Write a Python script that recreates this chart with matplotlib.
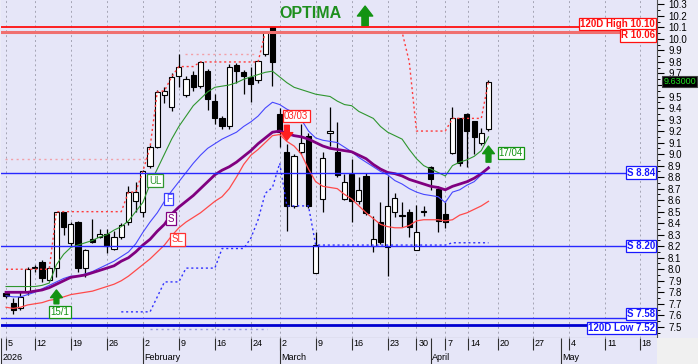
import numpy as np
import matplotlib.pyplot as plt
from matplotlib.patches import Rectangle

plt.rcParams['font.family'] = ['Liberation Sans', 'DejaVu Sans']

# daily candles, Jan 5 .. Apr 17 2026 (trading-day index 0..67)
opens = [7.79, 7.71, 7.66, 7.80, 8.02, 8.06, 7.91, 8.01, 8.50, 8.23,
         8.41, 8.01, 8.26, 8.28, 8.31, 8.18, 8.28, 8.41, 8.59, 8.50,
         8.90, 9.06, 9.51, 9.41, 9.68, 9.51, 9.69, 9.59, 9.72, 9.46,
         9.31, 9.24, 9.77, 9.71, 9.67, 9.64, 9.87, 10.10, 9.35, 9.02,
         8.55, 9.02, 9.16, 7.97, 8.61, 9.18, 9.02, 8.61, 8.83, 8.59,
         8.81, 8.20, 8.41, 8.19, 8.50, 8.47, 8.50, 8.17, 8.51, 8.89,
         8.70, 8.48, 9.01, 9.31, 9.35, 9.29, 9.10, 9.22]
highs = [7.80, 7.75, 7.80, 8.02, 8.04, 8.08, 8.03, 8.50, 8.50, 8.41,
         8.42, 8.18, 8.44, 8.35, 8.35, 8.33, 8.40, 8.72, 8.76, 8.86,
         9.08, 9.56, 9.58, 9.70, 9.87, 9.68, 9.72, 9.81, 9.74, 9.52,
         9.33, 9.78, 9.79, 9.73, 9.76, 9.82, 10.06, 10.10, 9.40, 9.09,
         9.00, 9.26, 9.18, 8.32, 9.02, 9.41, 9.28, 8.83, 8.96, 8.80,
         8.84, 8.46, 8.58, 8.81, 8.66, 8.58, 8.52, 8.56, 8.55, 8.90,
         8.72, 8.58, 9.41, 9.31, 9.36, 9.29, 9.23, 9.64]
lows = [7.75, 7.61, 7.65, 7.78, 7.98, 7.89, 7.90, 7.93, 8.30, 8.20,
        7.98, 7.93, 8.23, 8.27, 8.14, 8.17, 8.26, 8.38, 8.50, 8.45,
        8.88, 9.05, 9.44, 9.37, 9.58, 9.50, 9.55, 9.57, 9.38, 9.26,
        9.22, 9.22, 9.62, 9.52, 9.45, 9.62, 9.85, 9.59, 9.06, 8.33,
        8.53, 9.00, 8.53, 7.97, 8.50, 9.07, 8.80, 8.60, 8.41, 8.57,
        8.47, 8.15, 8.22, 7.94, 8.45, 8.37, 8.28, 8.17, 8.46, 8.69,
        8.32, 8.36, 9.00, 8.90, 8.89, 9.00, 9.08, 9.20]
closes = [7.77, 7.65, 7.76, 8.00, 8.01, 7.92, 8.01, 8.50, 8.37, 8.39,
          8.01, 8.17, 8.24, 8.31, 8.20, 8.28, 8.38, 8.67, 8.67, 8.85,
          9.06, 9.54, 9.55, 9.67, 9.76, 9.65, 9.58, 9.80, 9.48, 9.31,
          9.24, 9.76, 9.72, 9.68, 9.61, 9.81, 10.06, 9.80, 9.19, 8.55,
          8.98, 9.10, 8.55, 8.21, 8.97, 9.20, 8.82, 8.76, 8.59, 8.69,
          8.49, 8.26, 8.24, 8.55, 8.62, 8.46, 8.37, 8.32, 8.50, 8.78,
          8.42, 8.41, 9.31, 8.92, 9.20, 9.15, 9.18, 9.63]

# indicator lines
ul_line = [7.85, 7.85, 7.85, 7.85, 7.85, 7.86, 7.88, 8.04, 8.13, 8.19,
           8.21, 8.23, 8.25, 8.28, 8.30, 8.34, 8.37, 8.42, 8.50, 8.58,
           8.74, 8.87, 9.00, 9.13, 9.24, 9.33, 9.42, 9.48, 9.54, 9.58,
           9.59, 9.60, 9.62, 9.65, 9.67, 9.69, 9.71, 9.72, 9.67, 9.62,
           9.58, 9.56, 9.54, 9.52, 9.51, 9.50, 9.46, 9.43, 9.42, 9.37,
           9.34, 9.31, 9.24, 9.19, 9.16, 9.13, 9.04, 8.96, 8.90, 8.87,
           8.84, 8.81, 8.90, 8.93, 8.95, 8.98, 9.03, 9.15]
f_line = [7.77, 7.76, 7.76, 7.78, 7.80, 7.83, 7.86, 7.89, 7.92, 7.94,
          7.94, 7.96, 7.98, 8.01, 8.04, 8.07, 8.11, 8.15, 8.22, 8.32,
          8.41, 8.49, 8.59, 8.68, 8.76, 8.84, 8.92, 8.99, 9.05, 9.09,
          9.13, 9.16, 9.19, 9.24, 9.28, 9.33, 9.40, 9.45, 9.43, 9.39,
          9.36, 9.30, 9.20, 9.14, 9.12, 9.11, 9.10, 9.06, 9.02, 8.97,
          8.93, 8.89, 8.85, 8.82, 8.77, 8.74, 8.70, 8.67, 8.65, 8.64,
          8.63, 8.58, 8.67, 8.69, 8.73, 8.76, 8.82, 8.89]
s_line = [7.80, 7.80, 7.80, 7.80, 7.81, 7.82, 7.84, 7.87, 7.90, 7.93,
          7.94, 7.95, 7.97, 7.99, 8.01, 8.03, 8.07, 8.10, 8.15, 8.21,
          8.26, 8.33, 8.39, 8.48, 8.54, 8.59, 8.64, 8.70, 8.76, 8.82,
          8.86, 8.89, 8.93, 8.98, 9.03, 9.09, 9.14, 9.19, 9.20, 9.18,
          9.16, 9.15, 9.13, 9.10, 9.07, 9.05, 9.04, 9.03, 9.02, 8.99,
          8.96, 8.91, 8.87, 8.84, 8.83, 8.81, 8.78, 8.76, 8.74, 8.72,
          8.71, 8.69, 8.72, 8.74, 8.76, 8.79, 8.83, 8.88]
sl_line = [7.67, 7.66, 7.67, 7.69, 7.70, 7.71, 7.73, 7.74, 7.76, 7.78,
           7.79, 7.80, 7.81, 7.83, 7.85, 7.87, 7.90, 7.94, 7.99, 8.04,
           8.09, 8.15, 8.21, 8.29, 8.36, 8.41, 8.45, 8.49, 8.54, 8.59,
           8.63, 8.70, 8.80, 8.91, 8.99, 9.04, 9.10, 9.16, 9.17, 9.11,
           9.07, 9.00, 8.87, 8.76, 8.72, 8.71, 8.70, 8.65, 8.61, 8.55,
           8.49, 8.44, 8.39, 8.37, 8.36, 8.36, 8.38, 8.42, 8.43, 8.43,
           8.43, 8.42, 8.43, 8.47, 8.49, 8.52, 8.55, 8.59]

# dotted resistance / support steps
res_steps = ([8.00] * 7 + [8.50] * 10 + [8.67, 8.67, 8.85, 9.06, 9.54, 9.55, 9.67]
             + [9.76] * 3 + [9.80] * 9 + [10.06] * 20 + [9.80] + [9.20] * 5
             + [9.31] * 5 + [9.63])
sup_start = 16
sup_steps = ([7.63] * 5 + [7.76] + [7.89] * 3 + [8.01] * 5 + [8.18] * 4
             + [8.27, 8.43, 8.66, 8.71, 8.92] + [8.55] * 4 + [8.21] * 19 + [8.23] * 6)

# faint older levels: (price, first index, last index, colour)
old_levels = [(8.96, -0.1, 19.6, '#f2a0a8'), (9.87, 24.9, 34.9, '#f2a0a8'),
              (7.485, 20.0, 36.2, '#9a9ae0')]

# horizontal levels
level_names = ['120D High', 'R', 'S', 'S', 'S', '120D Low']
level_values = [10.10, 10.06, 8.84, 8.20, 7.58, 7.52]
level_colors = ['#ff1010', '#f07070', '#2828ff', '#2828ff', '#2828ff', '#0000d0']
level_widths = [1.3, 2.2, 1.0, 1.0, 1.0, 2.0]
level_text_colors = ['#ff1010', '#ff1010', '#1818ff', '#1818ff', '#1818ff', '#1818ff']
level_shift = [2.6, -2.5, 0, 0, 2.8, -2.4]

# signals
signal_idx = [7, 39, 67]
signal_tail = [7.70, 9.25, 8.93]
signal_tip = [7.82, 9.12, 9.07]
signal_text = ['15/1', '03/03', '17/04']
signal_text_x = [7.5, 40.3, 70.1]
signal_text_y = [7.63, 9.33, 9.01]
signal_colors = ['#139313', '#ff2020', '#139313']

# x axis
day_pos = [0, 4, 9, 14, 19, 24, 29, 34, 38, 43, 48, 53, 57, 61, 64.2, 68.3, 73.2, 78.2, 83.2, 88]
day_labels = ['5', '12', '19', '26', '2', '9', '16', '24', '2', '9', '16', '23', '30',
              '7', '14', '20', '27', '4', '11', '18']
month_pos = [-0.7, 19, 38, 59, 77.1]
month_labels = ['2026', 'February', 'March', 'April', 'May']

W, H = 698, 364
fig = plt.figure(figsize=(W / 100, H / 100), dpi=100)
fig.patch.set_facecolor('#ebebf7')
ax = fig.add_axes([1 / W, 26 / H, 656 / W, 338 / H])
ax.set_facecolor('#e6e6f8')
ax.set_xlim(-0.7, 90.4)
ax.set_ylim(7.403, 10.338)

for t in day_pos:
    ax.axvline(t, color='#a4a4b4', lw=0.7, ls=(0, (2, 3)), zorder=0)

x = np.arange(len(closes))
o = np.array(opens)
c = np.array(closes)
ax.vlines(x, lows, highs, color='black', lw=0.9, zorder=2)
body_colors = ['white' if cc >= oo else 'black' for oo, cc in zip(o, c)]
ax.bar(x, np.abs(c - o), bottom=np.minimum(o, c), width=0.72, color=body_colors,
       edgecolor='black', linewidth=0.8, zorder=3)

for price, a, b, col in old_levels:
    ax.hlines(price, a, b, color=col, lw=1.0, ls=(0, (1.5, 2.5)), zorder=1)

ax.plot(x, res_steps, color='#ff3b3b', lw=1.0, ls=(0, (1.5, 2)), zorder=4)
ax.plot(x[sup_start:], sup_steps, color='#3030ff', lw=1.0, ls=(0, (1.5, 2)), zorder=4)

ax.plot(x, ul_line, color='#2f962f', lw=0.8, zorder=5)
ax.plot(x, f_line, color='#4646ff', lw=0.8, zorder=5)
ax.plot(x, sl_line, color='#ff4a4a', lw=0.9, zorder=5)
ax.plot(x, s_line, color='#800080', lw=2.0, zorder=6)

for name, val, col, lw, tcol, dy in zip(level_names, level_values, level_colors,
                                        level_widths, level_text_colors, level_shift):
    ax.axhline(val, color=col, lw=lw, zorder=6)
    ax.annotate(f'{name} {val:.2f}', xy=(0.997, val), xycoords=('axes fraction', 'data'),
                xytext=(0, dy), textcoords='offset points', ha='right', va='center',
                fontsize=7, fontweight='bold', color=tcol, zorder=8,
                bbox=dict(boxstyle='square,pad=0.12', fc='white', ec=tcol, lw=0.9))

line_tags = [('UL', 20.7, 8.77, '#2f962f'), ('F', 22.6, 8.61, '#3a3aff'),
             ('S', 22.9, 8.44, '#800080'), ('SL', 23.8, 8.26, '#ff3030')]
for txt, tx, ty, col in line_tags:
    ax.text(tx, ty, txt, ha='center', va='center', fontsize=7, color=col, zorder=8,
            bbox=dict(boxstyle='square,pad=0.15', fc='white', ec=col, lw=0.9))

arrow_style = 'simple,head_length=0.55,head_width=0.85,tail_width=0.35'
for i, tail, tip, txt, tx, ty, col in zip(signal_idx, signal_tail, signal_tip, signal_text,
                                          signal_text_x, signal_text_y, signal_colors):
    ax.annotate('', xy=(i, tip), xytext=(i, tail), zorder=8,
                arrowprops=dict(arrowstyle=arrow_style, fc=col, ec=col,
                                mutation_scale=10, shrinkA=0, shrinkB=0))
    ax.text(tx, ty, txt, ha='center', va='center', fontsize=7, color=col, zorder=8,
            bbox=dict(boxstyle='square,pad=0.12', fc='white', ec=col, lw=0.9))

ax.text(0.471, 0.959, 'OPTIMA', transform=ax.transAxes, ha='center', va='center',
        fontsize=11.5, fontweight='bold', color='#1e8f1e')
ax.annotate('', xy=(0.555, 0.982), xytext=(0.555, 0.924), xycoords='axes fraction',
            arrowprops=dict(arrowstyle=arrow_style, fc='#139313', ec='#139313',
                            mutation_scale=13, shrinkA=0, shrinkB=0))

ax.annotate(f'{closes[-1]:.5f}', xy=(1.0, closes[-1]), xycoords=('axes fraction', 'data'),
            xytext=(4.5, 0), textcoords='offset points', ha='left', va='center',
            fontsize=6.5, color='#22e022', annotation_clip=False, zorder=10,
            bbox=dict(boxstyle='square,pad=0.12', fc='black', ec='#404040', lw=0.8))

ytick_vals = np.round(np.arange(7.5, 10.31, 0.1), 1)
ax.yaxis.tick_right()
ax.set_yticks(ytick_vals)
# the 9.6 label sits under the last-price box
ax.set_yticklabels(['' if abs(v - 9.6) < 1e-6 else f'{v:.1f}' for v in ytick_vals])
ax.set_yticks(np.round(np.arange(7.45, 10.33, 0.05), 2), minor=True)
ax.tick_params(axis='y', which='major', length=5, width=0.8, labelsize=7, pad=3)
ax.tick_params(axis='y', which='minor', length=2.5, width=0.7)
ax.set_xticks([])
for side in ['top', 'left']:
    ax.spines[side].set_visible(False)
ax.spines['right'].set_color('#505050')
ax.spines['bottom'].set_color('#707070')

xa = fig.add_axes([1 / W, 0, 656 / W, 26 / H])
xa.set_xlim(-0.7, 90.4)
xa.set_ylim(0, 26)
xa.axis('off')
xa.add_patch(Rectangle((0, 0), 1, 1, transform=xa.transAxes, fc='#e6e6f8', ec='none', zorder=0))
xa.vlines(day_pos, 14, 26, color='#303030', lw=0.8)
xa.vlines(month_pos, 0, 26, color='#303030', lw=0.8)
for p, lab in zip(day_pos, day_labels):
    xa.text(p + 0.25, 20, lab, ha='left', va='center', fontsize=6.5)
for p, lab in zip(month_pos, month_labels):
    xa.text(p + 0.2, 7, lab, ha='left', va='center', fontsize=6.5)
fig.patches.append(Rectangle((657 / W, 0), 41 / W, 26 / H, transform=fig.transFigure,
                             fc='#f0f0f0', ec='none'))

fig.savefig('out.png', dpi=100, facecolor=fig.get_facecolor())
